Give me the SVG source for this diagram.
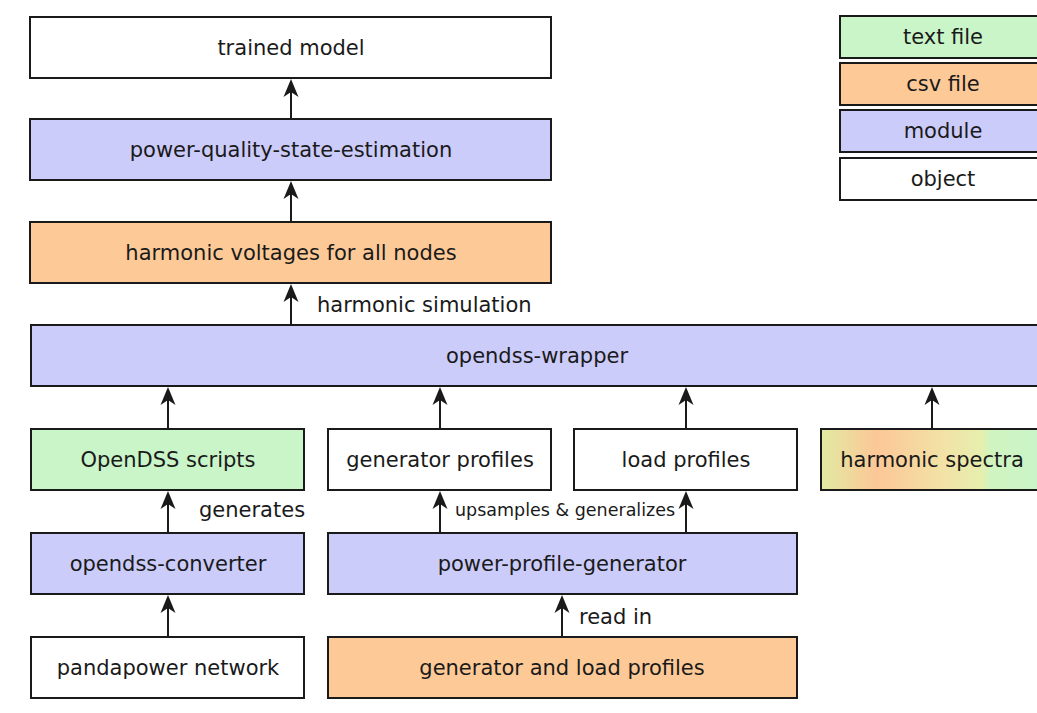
<svg xmlns="http://www.w3.org/2000/svg" width="1037" height="713" viewBox="0 0 1037 713">
<style>
.b{stroke:#1a1a1a;stroke-width:2}
.w{fill:#ffffff}
.m{fill:#ccccfa}
.c{fill:#fdca97}
.t{fill:#c9f5c9}
text{font-family:"DejaVu Sans","Liberation Sans",sans-serif;font-size:21px;fill:#1a1a1a}
.n{text-anchor:middle}
.s{font-size:17.5px}
.a{stroke:#1a1a1a;stroke-width:2;fill:none;marker-end:url(#ah)}
</style>
<defs>
<marker id="ah" markerUnits="userSpaceOnUse" viewBox="-12 -9 20 18" markerWidth="20" markerHeight="18" refX="0" refY="0" orient="auto">
<path d="M7,0 L-11,-7.5 L-6,0 L-11,7.5 Z" fill="#1a1a1a"/>
</marker>
<linearGradient id="hs" x1="0" y1="0" x2="1" y2="0">
<stop offset="0" stop-color="#e2eaa2"/>
<stop offset="0.25" stop-color="#fcc797"/>
<stop offset="0.55" stop-color="#f2e2a6"/>
<stop offset="0.72" stop-color="#e6eeae"/>
<stop offset="0.76" stop-color="#d0f4c0"/>
<stop offset="1" stop-color="#c9f5c9"/>
</linearGradient>
</defs>
<rect width="1037" height="713" fill="#ffffff"/>
<g id="legend">
<g id="legend-text"><rect class="b t" x="840" y="16" width="206" height="42"/><text class="n" x="943" y="44">text file</text></g>
<g id="legend-csv"><rect class="b c" x="840" y="63" width="206" height="42"/><text class="n" x="943" y="91">csv file</text></g>
<g id="legend-module"><rect class="b m" x="840" y="110" width="206" height="42"/><text class="n" x="943" y="138">module</text></g>
<g id="legend-object"><rect class="b w" x="840" y="158" width="206" height="42"/><text class="n" x="943" y="186">object</text></g>
</g>
<g id="trained-model"><rect class="b w" x="30" y="17" width="521" height="61"/><text class="n" x="291" y="55">trained model</text></g>
<g id="pqse"><rect class="b m" x="30" y="119" width="521" height="61"/><text class="n" x="291" y="157">power-quality-state-estimation</text></g>
<g id="harmonic-voltages"><rect class="b c" x="30" y="222" width="521" height="61"/><text class="n" x="291" y="260">harmonic voltages for all nodes</text></g>
<g id="opendss-wrapper"><rect class="b m" x="31" y="325" width="1013" height="61"/><text class="n" x="537" y="363">opendss-wrapper</text></g>
<g id="opendss-scripts"><rect class="b t" x="31" y="429" width="273" height="61"/><text class="n" x="168" y="467">OpenDSS scripts</text></g>
<g id="generator-profiles"><rect class="b w" x="328" y="429" width="223" height="61"/><text class="n" x="440" y="467">generator profiles</text></g>
<g id="load-profiles"><rect class="b w" x="574" y="429" width="223" height="61"/><text class="n" x="686" y="467">load profiles</text></g>
<g id="harmonic-spectra"><rect class="b" fill="url(#hs)" x="821" y="429" width="223" height="61"/><text class="n" x="932" y="467">harmonic spectra</text></g>
<g id="opendss-converter"><rect class="b m" x="31" y="533" width="273" height="61"/><text class="n" x="168" y="571">opendss-converter</text></g>
<g id="power-profile-generator"><rect class="b m" x="328" y="533" width="469" height="61"/><text class="n" x="562" y="571">power-profile-generator</text></g>
<g id="pandapower-network"><rect class="b w" x="31" y="637" width="273" height="61"/><text class="n" x="168" y="675">pandapower network</text></g>
<g id="generator-load-profiles"><rect class="b c" x="328" y="637" width="469" height="61"/><text class="n" x="562" y="675">generator and load profiles</text></g>
<g id="connectors">
<line class="a" x1="291" y1="119" x2="291" y2="86"/>
<line class="a" x1="291" y1="222" x2="291" y2="188"/>
<line class="a" x1="291" y1="325" x2="291" y2="291"/>
<line class="a" x1="168" y1="429" x2="168" y2="394"/>
<line class="a" x1="440" y1="429" x2="440" y2="394"/>
<line class="a" x1="686" y1="429" x2="686" y2="394"/>
<line class="a" x1="932" y1="429" x2="932" y2="394"/>
<line class="a" x1="168" y1="533" x2="168" y2="498"/>
<line class="a" x1="440" y1="533" x2="440" y2="498"/>
<line class="a" x1="686" y1="533" x2="686" y2="498"/>
<line class="a" x1="168" y1="637" x2="168" y2="602"/>
<line class="a" x1="562" y1="637" x2="562" y2="602"/>
<text x="317" y="312">harmonic simulation</text>
<text x="199" y="517">generates</text>
<text class="s" x="455" y="516">upsamples &amp; generalizes</text>
<text x="579" y="624">read in</text>
</g>
</svg>
